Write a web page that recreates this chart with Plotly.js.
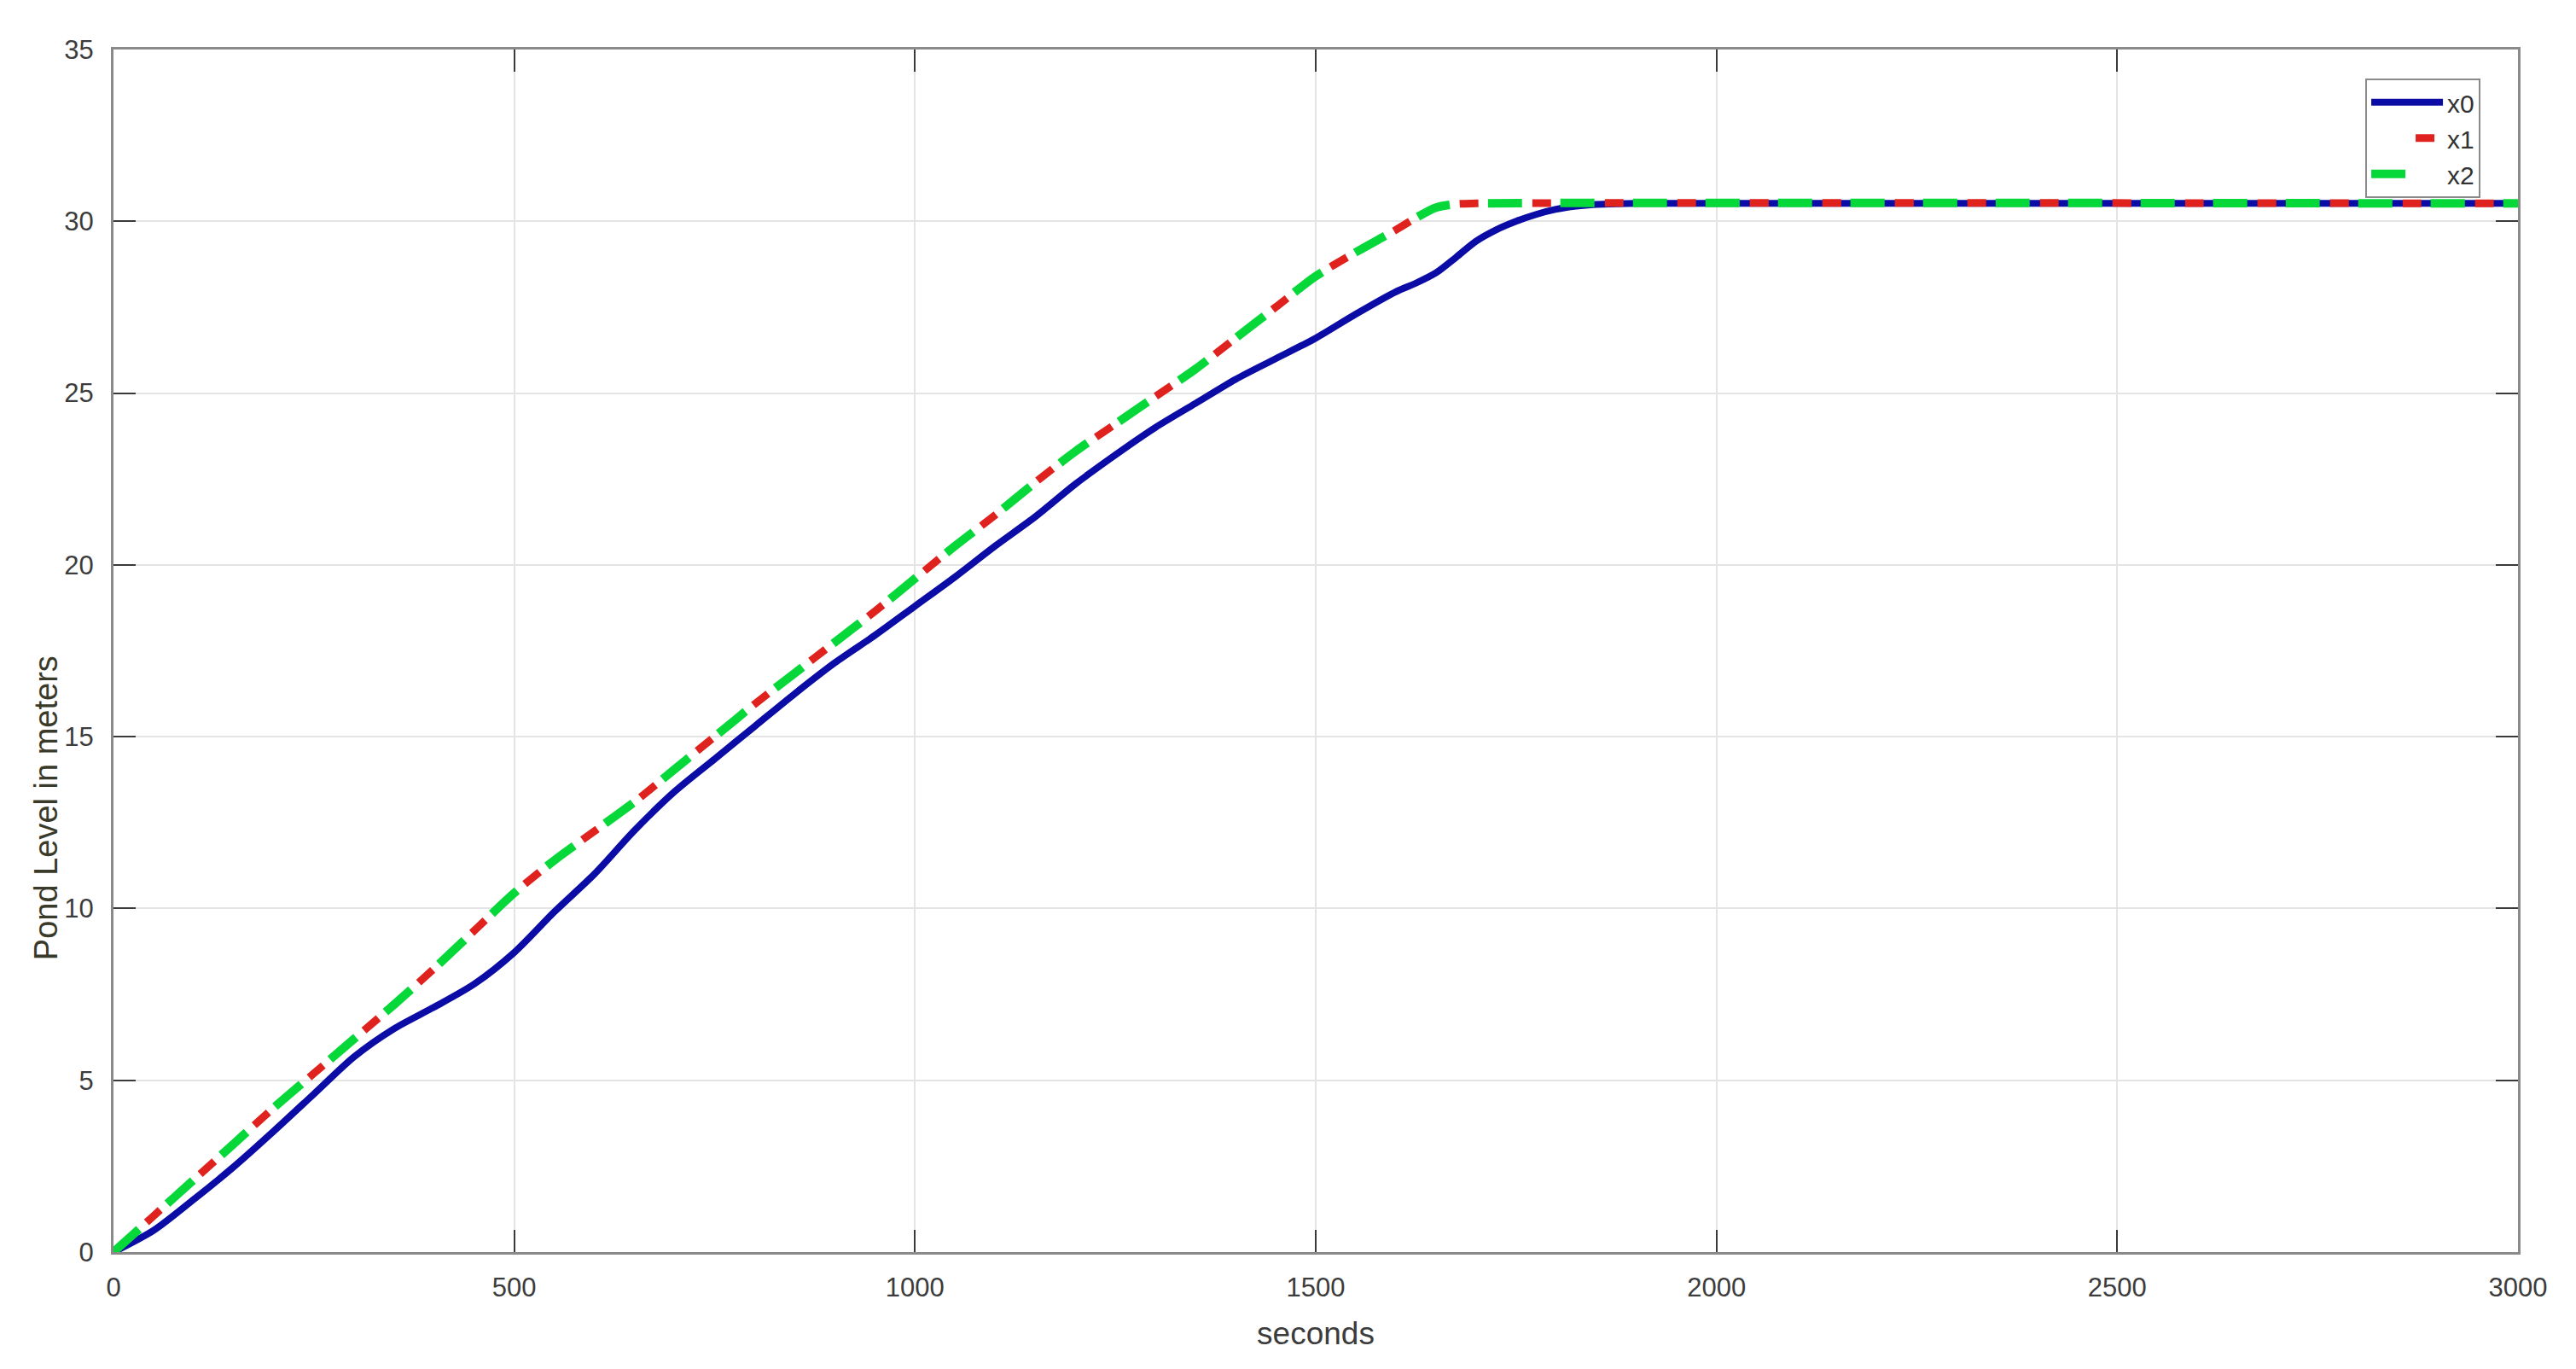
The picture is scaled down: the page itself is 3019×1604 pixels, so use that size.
<!DOCTYPE html>
<html>
<head>
<meta charset="utf-8">
<script src="https://cdn.plot.ly/plotly-3.0.1.min.js"></script>
<style>
  html, body { margin: 0; padding: 0; background: #ffffff; }
  #chart { width: 3019px; height: 1604px; }
</style>
</head>
<body>
<div id="chart"></div>
<script>
// ---- Data ----
const seriesNames = ["x0", "x1", "x2"];

// x0 (solid blue)
const timeX0 = [0, 50, 100, 150, 200, 250, 300, 350, 400, 450, 500, 550, 600, 650, 700, 750,
  800, 850, 900, 950, 1000, 1050, 1100, 1150, 1200, 1250, 1300, 1350, 1400, 1450, 1500, 1550,
  1600, 1625, 1650, 1675, 1700, 1725, 1750, 1775, 1800, 1825, 1850, 1875, 1900, 3000];
const levelX0 = [0, 0.63, 1.53, 2.48, 3.52, 4.6, 5.68, 6.5, 7.13, 7.8, 8.72, 9.9, 11.0, 12.27, 13.4, 14.35,
  15.3, 16.25, 17.15, 17.95, 18.8, 19.65, 20.55, 21.4, 22.35, 23.2, 24.0, 24.7, 25.4, 26.0, 26.6, 27.3,
  27.95, 28.2, 28.5, 28.95, 29.42, 29.75, 30.0, 30.2, 30.35, 30.44, 30.49, 30.51, 30.52, 30.52];

// x1 (red dashed) and x2 (green dashed) lie on the same path
const timeX1 = [0, 50, 100, 150, 200, 250, 300, 350, 400, 450, 500, 550, 600, 650, 700, 750,
  800, 850, 900, 950, 1000, 1050, 1100, 1150, 1200, 1250, 1300, 1350, 1400, 1450, 1500, 1550,
  1600, 1625, 1650, 1675, 1700, 3000];
const levelX1 = [0, 1.05, 2.1, 3.15, 4.2, 5.2, 6.2, 7.2, 8.25, 9.35, 10.45, 11.4, 12.25, 13.1, 14.05, 15.0,
  15.95, 16.85, 17.75, 18.65, 19.6, 20.55, 21.45, 22.4, 23.3, 24.1, 24.9, 25.7, 26.6, 27.5, 28.4, 29.1,
  29.75, 30.1, 30.4, 30.5, 30.52, 30.52];

const timeX2 = [0, 50, 100, 150, 200, 250, 300, 350, 400, 450, 500, 550, 600, 650, 700, 750,
  800, 850, 900, 950, 1000, 1050, 1100, 1150, 1200, 1250, 1300, 1350, 1400, 1450, 1500, 1550,
  1600, 1625, 1650, 1675, 1700, 3000];
const levelX2 = [0, 1.05, 2.1, 3.15, 4.2, 5.2, 6.2, 7.2, 8.25, 9.35, 10.45, 11.4, 12.25, 13.1, 14.05, 15.0,
  15.95, 16.85, 17.75, 18.65, 19.6, 20.55, 21.45, 22.4, 23.3, 24.1, 24.9, 25.7, 26.6, 27.5, 28.4, 29.1,
  29.75, 30.1, 30.4, 30.5, 30.52, 30.52];

const xTicks = [0, 500, 1000, 1500, 2000, 2500, 3000];
const yTicks = [0, 5, 10, 15, 20, 25, 30, 35];
const xTitle = "seconds";
const yTitle = "Pond Level in meters";

const FONT = "Liberation Sans, Arial, sans-serif";

// ---- Traces ----
const traces = [
  {
    x: timeX0, y: levelX0, name: seriesNames[0], type: "scatter", mode: "lines",
    line: { color: "#0b0ba6", width: 8, shape: "spline", smoothing: 0.8 }
  },
  {
    x: timeX1, y: levelX1, name: seriesNames[1], type: "scatter", mode: "lines",
    line: { color: "#e0221e", width: 9, dash: "0px,52px,22px,11px", shape: "spline", smoothing: 0.8 }
  },
  {
    x: timeX2, y: levelX2, name: seriesNames[2], type: "scatter", mode: "lines",
    line: { color: "#06d83a", width: 10, dash: "40px,45px", shape: "spline", smoothing: 0.8 }
  }
];

const tickColor = "#3a3a3a";
const axisCommon = {
  showgrid: true,
  gridcolor: "#e4e4e4",
  gridwidth: 2,
  showline: true,
  linecolor: "#8a8a8a",
  linewidth: 3,
  mirror: "ticks",
  ticks: "inside",
  ticklen: 26,
  tickwidth: 2,
  tickcolor: tickColor,
  zeroline: false,
  tickfont: { family: FONT, size: 31, color: "#3c3c3c" },
  automargin: false
};

const layout = {
  width: 3019,
  height: 1604,
  margin: { l: 133, r: 68, t: 58, b: 137 },
  paper_bgcolor: "#ffffff",
  plot_bgcolor: "#ffffff",
  font: { family: FONT, color: "#3c3c3c" },
  showlegend: true,
  legend: {
    x: 0.9365, y: 0.976, xanchor: "left", yanchor: "top",
    bgcolor: "#ffffff",
    bordercolor: "#8a8a8a",
    borderwidth: 2,
    font: { family: FONT, size: 30, color: "#333333" },
    itemwidth: 84,
    tracegroupgap: 0
  },
  xaxis: Object.assign({}, axisCommon, {
    range: [0, 3000],
    tickmode: "array",
    tickvals: xTicks,
    ticktext: xTicks.map(String),
    ticklabelstandoff: 12,
    title: { text: xTitle, font: { family: FONT, size: 37, color: "#3c3c3c" }, standoff: 24 }
  }),
  yaxis: Object.assign({}, axisCommon, {
    range: [0, 35],
    tickmode: "array",
    tickvals: yTicks,
    ticktext: yTicks.map(String),
    ticklabelstandoff: 14,
    title: { text: "" }
  }),
  annotations: [
    {
      text: yTitle,
      xref: "paper", yref: "paper",
      x: -0.028, y: 0.369,
      xanchor: "center", yanchor: "middle",
      textangle: -90,
      showarrow: false,
      font: { family: FONT, size: 38, color: "#3a3a2a" }
    }
  ]
};

Plotly.newPlot("chart", traces, layout, { staticPlot: true, displayModeBar: false });
</script>
</body>
</html>
